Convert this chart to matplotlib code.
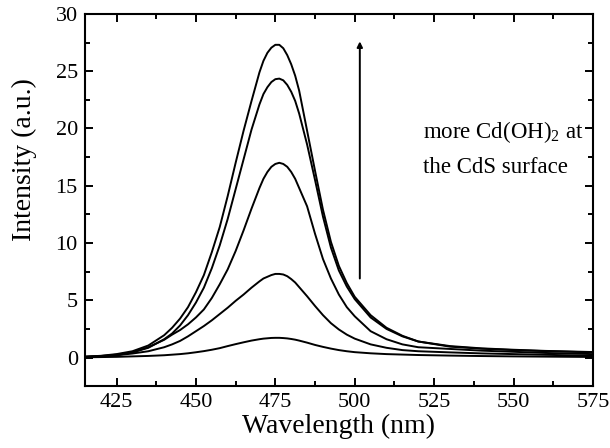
import matplotlib
matplotlib.use("Agg")
import matplotlib.pyplot as plt
from matplotlib.ticker import MultipleLocator

plt.rcParams["font.family"] = ["Liberation Serif", "DejaVu Serif"]
plt.rcParams["mathtext.fontset"] = "custom"
plt.rcParams["mathtext.rm"] = "Liberation Serif"

# wavelength grid (nm)
wavelength = [415, 420, 425, 430, 435, 440, 442.5, 445, 447.5, 450, 452.5, 455,
              457.5, 460, 462.5, 465, 467.5, 470, 471.25, 472.5, 473.75, 475,
              476.25, 477.5, 478.75, 480, 481.25, 482.5, 485, 487.5, 490, 492.5,
              495, 497.5, 500, 505, 510, 515, 520, 530, 540, 550, 560, 575]

# PL spectra, from weakest to strongest (more Cd(OH)2 at the surface)
spec_1 = [0.02, 0.04, 0.06, 0.1, 0.14, 0.2, 0.25, 0.3, 0.37, 0.46, 0.56, 0.68,
          0.82, 1.0, 1.17, 1.33, 1.48, 1.6, 1.65, 1.68, 1.71, 1.72,
          1.72, 1.7, 1.67, 1.62, 1.56, 1.48, 1.3, 1.1, 0.93, 0.78,
          0.65, 0.55, 0.47, 0.37, 0.3, 0.26, 0.22, 0.17, 0.13, 0.1, 0.08, 0.05]
spec_2 = [0.05, 0.1, 0.2, 0.35, 0.55, 0.9, 1.15, 1.45, 1.85, 2.3, 2.75, 3.25,
          3.8, 4.35, 4.95, 5.5, 6.1, 6.65, 6.9, 7.05, 7.2, 7.3,
          7.3, 7.25, 7.1, 6.85, 6.55, 6.15, 5.35, 4.5, 3.7, 3.0,
          2.45, 2.0, 1.65, 1.15, 0.85, 0.65, 0.55, 0.45, 0.36, 0.3, 0.24, 0.15]
spec_3 = [0.05, 0.1, 0.2, 0.45, 0.9, 1.55, 2.0, 2.4, 2.9, 3.5, 4.2, 5.2,
          6.4, 7.7, 9.3, 11.1, 13.0, 14.8, 15.6, 16.2, 16.65, 16.9,
          17.0, 16.9, 16.65, 16.2, 15.6, 14.8, 13.2, 10.8, 8.6, 6.9,
          5.5, 4.4, 3.6, 2.3, 1.6, 1.15, 0.9, 0.75, 0.6, 0.5, 0.4, 0.3]
spec_4 = [0.07, 0.13, 0.25, 0.45, 0.85, 1.6, 2.1, 2.8, 3.7, 4.8, 6.1, 7.8,
          9.8, 12.1, 14.7, 17.3, 19.9, 22.1, 23.0, 23.6, 24.05, 24.3,
          24.35, 24.2, 23.8, 23.2, 22.4, 21.3, 18.6, 15.5, 12.3, 9.6,
          7.6, 6.2, 5.1, 3.5, 2.5, 1.85, 1.4, 0.95, 0.77, 0.65, 0.56, 0.45]
spec_5 = [0.08, 0.15, 0.3, 0.55, 1.05, 1.95, 2.6, 3.4, 4.4, 5.7, 7.2, 9.2,
          11.4, 14.1, 17.0, 19.8, 22.4, 24.9, 25.9, 26.6, 27.05, 27.3,
          27.3, 27.0, 26.4, 25.6, 24.6, 23.3, 19.8, 16.3, 12.9, 10.1,
          8.0, 6.5, 5.3, 3.7, 2.6, 1.9, 1.4, 1.0, 0.8, 0.68, 0.58, 0.48]

fig = plt.figure(figsize=(6.1, 4.48), dpi=100)
ax = fig.add_axes([0.139, 0.138, 0.833, 0.831])

for spec in [spec_1, spec_2, spec_3, spec_4, spec_5]:
    ax.plot(wavelength, spec, color="black", lw=1.4)

ax.annotate("", xy=(501.6, 27.6), xytext=(501.6, 6.9),
            arrowprops=dict(arrowstyle="-|>", color="black", lw=1.4,
                            mutation_scale=8, shrinkA=0, shrinkB=0))
ax.text(521.5, 19.7, "more Cd(OH)$_2$ at", fontsize=16.5, va="center", ha="left")
ax.text(521.5, 16.6, "the CdS surface", fontsize=16.5, va="center", ha="left")

ax.set_xlim(415, 575)
ax.set_ylim(-2.5, 30)
ax.xaxis.set_major_locator(MultipleLocator(25))
ax.xaxis.set_minor_locator(MultipleLocator(12.5))
ax.yaxis.set_major_locator(MultipleLocator(5))
ax.yaxis.set_minor_locator(MultipleLocator(2.5))
ax.tick_params(which="both", direction="in", top=True, right=True,
               width=1.4, labelsize=16, pad=5)
ax.tick_params(which="major", length=6)
ax.tick_params(which="minor", length=3.5)
for s in ax.spines.values():
    s.set_linewidth(1.5)

ax.set_xlabel("Wavelength (nm)", fontsize=20, labelpad=1)
ax.set_ylabel("Intensity (a.u.)", fontsize=20)
ax.yaxis.set_label_coords(-0.095, 0.61)

fig.savefig("out.png", dpi=100, facecolor="white")
